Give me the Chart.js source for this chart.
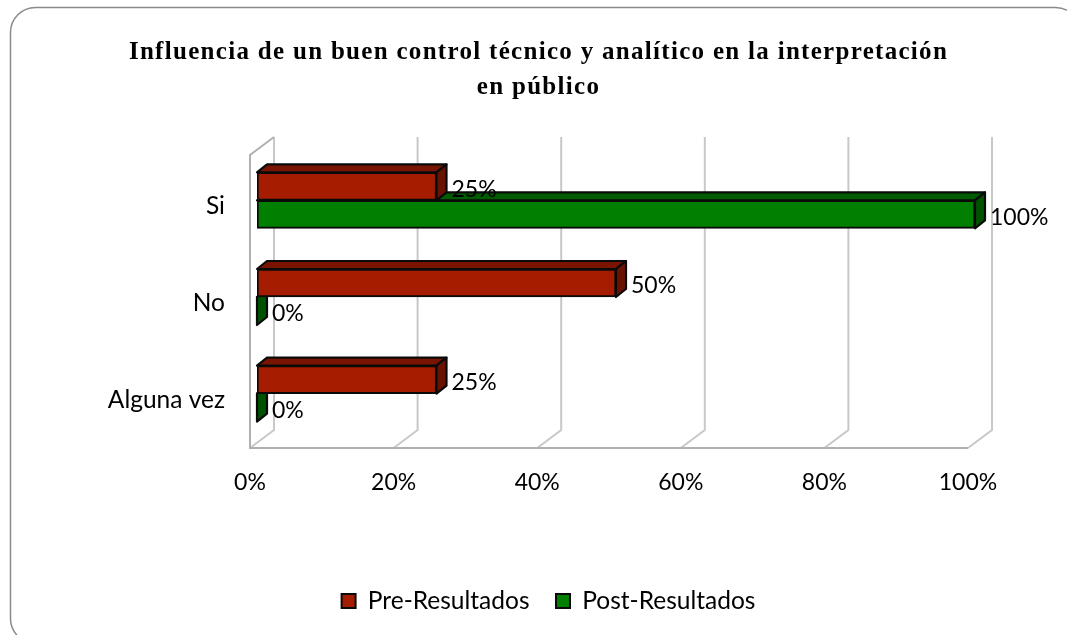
<!DOCTYPE html>
<html><head><meta charset="utf-8">
<style>html,body{margin:0;padding:0;background:#fff}#w{position:relative;width:1067px;height:635px}</style>
<script src="https://cdn.jsdelivr.net/npm/chart.js@4/dist/chart.umd.js"></script>
</head><body><div id="w"><canvas id="c" width="1067" height="635"></canvas></div>
<script>
const categories = ['Si','No','Alguna vez'];
const preResultados = [25,50,25];
const postResultados = [100,0,0];
const xTicks = [0,20,40,60,80,100];
const titleLines = ['Influencia de un buen control técnico y analítico en la interpretación','en público'];

const FONT='Lato';
const FS=24.5, NUM=23, LEG_PAD=26.5;
const WALL={dx:24,dy:-18,over:3};
const BAR={sx:7,sy:-6,dx:10,dy:-8};

function shade(ctx,pts,fill){
  ctx.beginPath();pts.forEach((p,i)=>i?ctx.lineTo(p[0],p[1]):ctx.moveTo(p[0],p[1]));ctx.closePath();
  ctx.fillStyle=fill;ctx.fill();ctx.lineWidth=2.2;ctx.strokeStyle='#0a0a0a';ctx.lineJoin='round';ctx.stroke();
}
const depthPlugin={
  id:'depth',
  afterLayout(chart){
    const t=chart.titleBlock,l=chart.legend;
    t.left=0;t.right=1077;
    l.left=30;l.right=1067;
    const h=l.height;
    l.top=601-LEG_PAD-FS/2;l.bottom=l.top+h;
    if(!t._spaced){
      t._spaced=true;
      const d=t.draw;
      t.draw=function(){const c=this.ctx;c.letterSpacing='1.3px';d.call(this);c.letterSpacing='0px';};
    }
  },
  beforeDraw(chart){
    const c=chart.ctx;
    c.save();c.beginPath();
    c.roundRect(10.5,7.5,1070,636,25);
    c.strokeStyle='#8a8a8a';c.lineWidth=1.5;c.stroke();c.restore();
  },
  beforeDatasetsDraw(chart){
    const c=chart.ctx,a=chart.chartArea,x=chart.scales.x,top=a.top-WALL.over;
    c.save();c.lineWidth=2;c.strokeStyle='#c8c8c8';
    xTicks.forEach(t=>{
      const px=x.getPixelForValue(t);
      c.beginPath();c.moveTo(px+WALL.dx,top+WALL.dy);c.lineTo(px+WALL.dx,a.bottom+WALL.dy);c.lineTo(px,a.bottom);c.stroke();
    });
    c.strokeStyle='#b0b0b0';
    c.beginPath();c.moveTo(a.left+WALL.dx,top+WALL.dy);c.lineTo(a.left,top);c.lineTo(a.left,a.bottom);c.lineTo(a.right,a.bottom);c.stroke();
    c.restore();
  },
  beforeDatasetDraw(chart,args){
    const c=chart.ctx,ds=chart.data.datasets[args.index];
    c.save();c.translate(BAR.sx,BAR.sy);
    args.meta.data.forEach(b=>{
      const l=b.base,r=b.x,t=b.y-b.height/2,bt=b.y+b.height/2,dx=BAR.dx,dy=BAR.dy;
      shade(c,[[l,t],[l+dx,t+dy],[r+dx,t+dy],[r,t]],ds.topColor);
      shade(c,[[r,t],[r+dx,t+dy],[r+dx,bt+dy],[r,bt]],ds.sideColor);
    });
  },
  afterDatasetDraw(chart){chart.ctx.restore();},
  afterDatasetsDraw(chart){
    const c=chart.ctx;
    c.save();c.font=NUM+'px '+FONT;c.fillStyle='#000';c.textBaseline='middle';c.textAlign='left';
    chart.data.datasets.forEach((ds,i)=>{
      chart.getDatasetMeta(i).data.forEach((b,j)=>{
        c.fillText(ds.data[j]+'%',b.x+BAR.sx+BAR.dx+5,b.y+BAR.sy+3);
      });
    });
    c.restore();
  }
};

const chart=new Chart(document.getElementById('c'),{
  type:'bar',
  plugins:[depthPlugin],
  data:{labels:categories,datasets:[
    {label:'Pre-Resultados',data:preResultados,backgroundColor:'#a61c00',topColor:'#781400',sideColor:'#6a1200',borderColor:'#0a0a0a',borderWidth:2,borderSkipped:false},
    {label:'Post-Resultados',data:postResultados,backgroundColor:'#007f00',topColor:'#005c00',sideColor:'#005200',borderColor:'#0a0a0a',borderWidth:2,borderSkipped:false}
  ]},
  options:{
    indexAxis:'y',responsive:false,animation:false,
    layout:{padding:{top:0,left:0,right:99,bottom:0}},
    datasets:{bar:{barThickness:28}},
    scales:{
      x:{type:'linear',min:0,max:100,position:'bottom',
        afterFit(s){s.height=187-s.chart.legend.height;},
        grid:{display:false},border:{display:false},
        ticks:{stepSize:20,padding:13,maxRotation:0,color:'#000',font:{family:FONT,size:NUM},callback:v=>v+'%'}},
      y:{type:'category',position:'left',
        afterFit(s){s.width=250;},
        grid:{display:false},border:{display:false},
        ticks:{padding:17,color:'#000',font:{family:FONT,size:FS}}}
    },
    plugins:{
      title:{display:true,text:titleLines,color:'#000',font:{family:'Liberation Serif',size:25,weight:'bold',lineHeight:1.4},padding:{top:35,bottom:53}},
      legend:{position:'bottom',labels:{color:'#000',boxWidth:14,boxHeight:14,font:{family:FONT,size:FS},padding:LEG_PAD,
        generateLabels(ch){return ch.data.datasets.map((d,i)=>({text:d.label,fillStyle:d.backgroundColor,strokeStyle:'#0a0a0a',lineWidth:2,datasetIndex:i,fontColor:'#000'}));}}},
      tooltip:{enabled:false}
    }
  }
});
</script></body></html>
